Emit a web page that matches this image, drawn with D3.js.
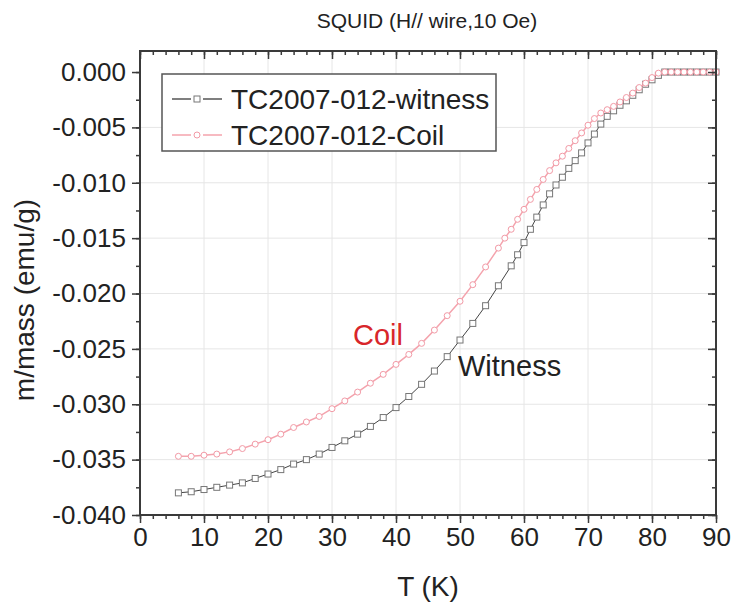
<!DOCTYPE html>
<html>
<head>
<meta charset="utf-8">
<script src="https://cdn.jsdelivr.net/npm/d3@7"></script>
<style>
  body { margin: 0; background: #fff; }
  svg { font-family: "Liberation Sans", Arial, sans-serif; }
</style>
</head>
<body>
<svg id="chart" width="731" height="603"></svg>
<script>
// temperature (K) and m/mass (emu/g)
const tempWitness = [6, 8, 10, 12, 14, 16, 18, 20, 22, 24, 26, 28, 30, 32, 34, 36, 38, 40, 42, 44, 46, 48, 50, 52, 54, 56,
  58, 59, 60, 61, 62, 63, 64, 65, 66, 67, 68, 69, 70, 71, 72, 73, 74, 75, 76, 77, 78, 79, 80, 81, 82, 83, 84, 85, 86, 87, 88, 89, 90];
const mWitness = [-0.0380, -0.0379, -0.0377, -0.0375, -0.0373, -0.0371, -0.0367, -0.0363, -0.0359, -0.0354, -0.0350, -0.0345,
  -0.0339, -0.0333, -0.0327, -0.0320, -0.0312, -0.0303, -0.0293, -0.0282, -0.0270, -0.0257, -0.0242, -0.0227, -0.0211, -0.0193,
  -0.0175, -0.0165, -0.0154, -0.0142, -0.0131, -0.0120, -0.0110, -0.0102, -0.0095, -0.0087, -0.0080, -0.0073, -0.0064, -0.0056,
  -0.0047, -0.0040, -0.0035, -0.0030, -0.0026, -0.0021, -0.0016, -0.0011, -0.0007, -0.0003, 0, 0, 0, 0, 0, 0, 0, 0, 0];

const tempCoil = [6, 8, 10, 12, 14, 16, 18, 20, 22, 24, 26, 28, 30, 32, 34, 36, 38, 40, 42, 44, 46, 48, 50, 52, 54,
  56, 57, 58, 59, 60, 61, 62, 63, 64, 65, 66, 67, 68, 69, 70, 71, 72, 73, 74, 75, 76, 77, 78, 79, 80, 81, 82, 83, 84, 85, 86, 87, 88, 89, 90];
const mCoil = [-0.0347, -0.0347, -0.0346, -0.0345, -0.0343, -0.0340, -0.0336, -0.0332, -0.0327, -0.0321, -0.0316, -0.0311,
  -0.0304, -0.0297, -0.0289, -0.0281, -0.0273, -0.0264, -0.0255, -0.0245, -0.0233, -0.0220, -0.0207, -0.0192, -0.0176,
  -0.0159, -0.0150, -0.0142, -0.0133, -0.0124, -0.0115, -0.0106, -0.0097, -0.0089, -0.0082, -0.0076, -0.0069, -0.0062, -0.0055,
  -0.0048, -0.0042, -0.0037, -0.0034, -0.0031, -0.0027, -0.0023, -0.0019, -0.0014, -0.0010, -0.0005, -0.0001, 0, 0, 0, 0, 0, 0, 0, 0, 0];

const xTicks = [0, 10, 20, 30, 40, 50, 60, 70, 80, 90];
const yTicks = [0, -0.005, -0.010, -0.015, -0.020, -0.025, -0.030, -0.035, -0.040];
const seriesNames = ["TC2007-012-witness", "TC2007-012-Coil"];

const witness = tempWitness.map((t, i) => ({ t, m: mWitness[i] }));
const coil = tempCoil.map((t, i) => ({ t, m: mCoil[i] }));

const svg = d3.select("#chart");
const pLeft = 140, pRight = 716, pTop = 51, pBottom = 515;

const x = d3.scaleLinear().domain([0, 90]).range([pLeft, pRight]);
const y = d3.scaleLinear().domain([-0.040, 0.0019]).range([pBottom, pTop]);

const xMinor = d3.range(0, 90.1, 2);
const yMinor = d3.range(0, -0.0401, -0.0025);

// grid
const grid = svg.append("g").attr("stroke", "#e6e6e6").attr("stroke-width", 1);
grid.selectAll(".gx").data(xTicks.slice(1, -1)).join("line")
  .attr("x1", d => x(d)).attr("x2", d => x(d)).attr("y1", pTop).attr("y2", pBottom);
grid.selectAll(".gy").data(yTicks.slice(1)).join("line")
  .attr("y1", d => y(d)).attr("y2", d => y(d)).attr("x1", pLeft).attr("x2", pRight);

// series (witness first, coil drawn over it)
const line = d3.line().x(d => x(d.t)).y(d => y(d.m));

svg.append("path").datum(witness)
  .attr("fill", "none").attr("stroke", "#444").attr("stroke-width", 1).attr("d", line);
svg.append("g").selectAll("rect").data(witness).join("rect")
  .attr("x", d => x(d.t) - 3).attr("y", d => y(d.m) - 3).attr("width", 6).attr("height", 6)
  .attr("fill", "#fff").attr("stroke", "#777").attr("stroke-width", 1);

svg.append("path").datum(coil)
  .attr("fill", "none").attr("stroke", "#f4a3ad").attr("stroke-width", 1.5).attr("d", line);
svg.append("g").selectAll("circle").data(coil).join("circle")
  .attr("cx", d => x(d.t)).attr("cy", d => y(d.m)).attr("r", 3)
  .attr("fill", "#fff").attr("stroke", "#f29aa6").attr("stroke-width", 1);

// axes
const fmt = d => d.toFixed(3);
const axisCol = "#3a3a3a";

function styleAxis(g) {
  g.select(".domain").remove();
  g.selectAll(".tick line").attr("stroke", axisCol).attr("stroke-width", 1.5);
  g.selectAll("text").attr("fill", "#222").style("font-size", "26px");
}

svg.append("g").attr("transform", `translate(0,${pBottom})`)
  .call(d3.axisBottom(x).tickValues(xMinor).tickSize(4).tickFormat(""))
  .call(styleAxis);
svg.append("g").attr("transform", `translate(0,${pBottom})`)
  .call(d3.axisBottom(x).tickValues(xTicks).tickSize(8).tickPadding(5))
  .call(styleAxis);

svg.append("g").attr("transform", `translate(0,${pTop})`)
  .call(d3.axisBottom(x).tickValues(xMinor).tickSize(4).tickFormat(""))
  .call(styleAxis);
svg.append("g").attr("transform", `translate(0,${pTop})`)
  .call(d3.axisBottom(x).tickValues(xTicks).tickSize(8).tickFormat(""))
  .call(styleAxis);

svg.append("g").attr("transform", `translate(${pLeft},0)`)
  .call(d3.axisLeft(y).tickValues(yMinor).tickSize(4).tickFormat(""))
  .call(styleAxis);
svg.append("g").attr("transform", `translate(${pLeft},0)`)
  .call(d3.axisLeft(y).tickValues(yTicks).tickSize(8).tickPadding(6).tickFormat(fmt))
  .call(styleAxis);

svg.append("g").attr("transform", `translate(${pRight},0)`)
  .call(d3.axisLeft(y).tickValues(yMinor).tickSize(4).tickFormat(""))
  .call(styleAxis);
svg.append("g").attr("transform", `translate(${pRight},0)`)
  .call(d3.axisLeft(y).tickValues(yTicks).tickSize(8).tickFormat(""))
  .call(styleAxis);

// frame
svg.append("rect").attr("x", pLeft).attr("y", pTop).attr("width", pRight - pLeft).attr("height", pBottom - pTop)
  .attr("fill", "none").attr("stroke", axisCol).attr("stroke-width", 2);

// titles
svg.append("text").attr("x", 427).attr("y", 28).attr("text-anchor", "middle")
  .style("font-size", "21px").attr("fill", "#222").text("SQUID (H// wire,10 Oe)");
svg.append("text").attr("x", 428).attr("y", 596).attr("text-anchor", "middle")
  .style("font-size", "28px").attr("fill", "#222").text("T (K)");
svg.append("text").attr("transform", "translate(34,300) rotate(-90)").attr("text-anchor", "middle")
  .style("font-size", "28px").attr("fill", "#222").text("m/mass (emu/g)");

// annotations
svg.append("text").attr("x", 353).attr("y", 345).style("font-size", "29px")
  .attr("fill", "#d8262a").text("Coil");
svg.append("text").attr("x", 458).attr("y", 376).style("font-size", "29px")
  .attr("fill", "#222").text("Witness");

// legend
const legend = svg.append("g");
legend.append("rect").attr("x", 162).attr("y", 74).attr("width", 334).attr("height", 77)
  .attr("fill", "#fff").attr("stroke", "#555").attr("stroke-width", 1.5);

const legRows = [
  { name: seriesNames[0], y: 99, line: "#555", mark: "#777", shape: "square" },
  { name: seriesNames[1], y: 135, line: "#f4a3ad", mark: "#f29aa6", shape: "circle" }
];
legRows.forEach(r => {
  legend.append("line").attr("x1", 172).attr("x2", 191).attr("y1", r.y).attr("y2", r.y)
    .attr("stroke", r.line).attr("stroke-width", 1.5);
  legend.append("line").attr("x1", 203).attr("x2", 222).attr("y1", r.y).attr("y2", r.y)
    .attr("stroke", r.line).attr("stroke-width", 1.5);
  if (r.shape === "square") {
    legend.append("rect").attr("x", 194).attr("y", r.y - 3).attr("width", 6).attr("height", 6)
      .attr("fill", "#fff").attr("stroke", r.mark);
  } else {
    legend.append("circle").attr("cx", 197).attr("cy", r.y).attr("r", 3)
      .attr("fill", "#fff").attr("stroke", r.mark);
  }
  legend.append("text").attr("x", 231).attr("y", r.y).attr("dy", "0.36em")
    .style("font-size", "28px").attr("fill", "#222").text(r.name);
});
</script>
</body>
</html>
